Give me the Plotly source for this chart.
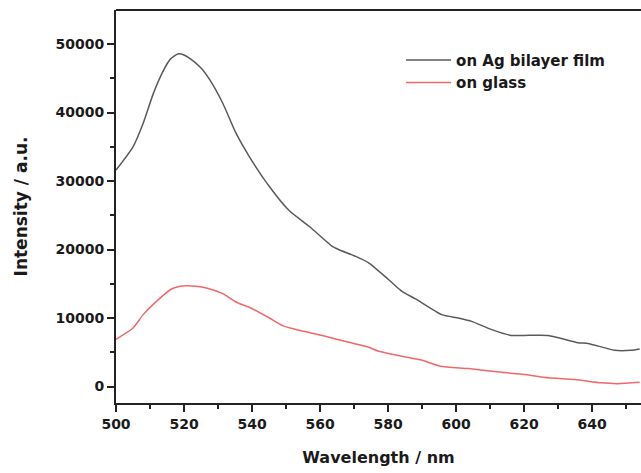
import plotly.graph_objects as go

wl_ag = [500, 505, 508, 511, 514, 516, 518.2, 520, 522, 525, 527.6, 531.4, 535.3, 539.2, 545.1, 550.9,
         556.8, 563.6, 565.6, 570.5, 574.4, 580.2, 584.1, 588.1, 595.8, 600.7, 604.6, 610.5, 616.3,
         620, 627.1, 635.9, 638.8, 646.6, 651.5, 654]
int_ag = [31600, 35000, 38450, 42800, 46200, 47800, 48550, 48400, 47800, 46500, 44760, 41360, 36990,
          33580, 29200, 25700, 23400, 20460, 19970, 19000, 18030, 15600, 13900, 12800, 10500, 10000,
          9520, 8310, 7460, 7460, 7460, 6400, 6300, 5290, 5290, 5490]

wl_gl = [500, 505, 508, 511.9, 516.3, 518.5, 520.7, 523.5, 526.6, 531.4, 535.3, 540.2, 545.1, 549,
         553.9, 560.7, 568.5, 574.4, 577.3, 584.1, 590, 595.4, 603.7, 613.4, 620.3, 627.1, 634.9,
         642.7, 647.6, 654]
int_gl = [6900, 8550, 10500, 12440, 14240, 14600, 14720, 14650, 14390, 13560, 12350, 11330, 10010,
          8890, 8210, 7440, 6460, 5730, 5150, 4420, 3830, 2960, 2620, 2080, 1750, 1270, 1020,
          540, 420, 630]

x_ticks = [500, 520, 540, 560, 580, 600, 620, 640]
y_ticks = [0, 10000, 20000, 30000, 40000, 50000]

FONT = "DejaVu Sans"
INK = "#1a1a1a"

fig = go.Figure()
fig.add_trace(go.Scatter(x=wl_ag, y=int_ag, mode="lines", name="on Ag bilayer film",
                         line=dict(color="#5a5a5a", width=1.5, shape="spline", smoothing=0.6)))
fig.add_trace(go.Scatter(x=wl_gl, y=int_gl, mode="lines", name="on glass",
                         line=dict(color="#f06868", width=1.5, shape="spline", smoothing=0.6)))

tickfont = dict(family=FONT, size=14, color=INK, weight="bold")
fig.update_layout(
    width=641, height=473,
    margin=dict(l=116, r=0, t=10, b=70),
    paper_bgcolor="white", plot_bgcolor="white",
    showlegend=True,
    legend=dict(x=0.543, y=0.914, xanchor="left", yanchor="top",
                font=dict(family=FONT, size=15, color=INK, weight="bold"),
                bgcolor="rgba(0,0,0,0)", itemwidth=45),
    xaxis=dict(range=[500, 654.4], tickvals=x_ticks, ticktext=[str(v) for v in x_ticks],
               showgrid=False, zeroline=False, showline=True, linecolor="#222", linewidth=2,
               mirror=False, ticks="outside", ticklen=7, tickwidth=1.5, tickcolor="#222",
               tickfont=tickfont,
               minor=dict(tickvals=[510, 530, 550, 570, 590, 610, 630, 650], ticks="outside",
                          ticklen=4, tickwidth=1.5, tickcolor="#222"),
               title=dict(text="Wavelength / nm",
                          font=dict(family=FONT, size=16, color=INK, weight="bold"), standoff=21)),
    yaxis=dict(range=[-2400, 54970], tickvals=y_ticks, ticktext=[str(v) for v in y_ticks],
               showgrid=False, zeroline=False, showline=True, linecolor="#222", linewidth=2,
               ticks="outside", ticklen=7, tickwidth=1.5, tickcolor="#222",
               tickfont=tickfont,
               minor=dict(tickvals=[5000, 15000, 25000, 35000, 45000], ticks="outside",
                          ticklen=4, tickwidth=1.5, tickcolor="#222"),
               title=dict(text="Intensity / a.u.",
                          font=dict(family=FONT, size=17, color=INK, weight="bold"), standoff=24)),
)
# top frame line
fig.add_shape(type="line", xref="paper", yref="paper", x0=0, x1=1, y0=1, y1=1,
              line=dict(color="#222", width=2))

fig.write_html("out.html", config={"displayModeBar": False},
               post_script="document.body.style.margin='0';document.body.style.overflow='hidden';")
